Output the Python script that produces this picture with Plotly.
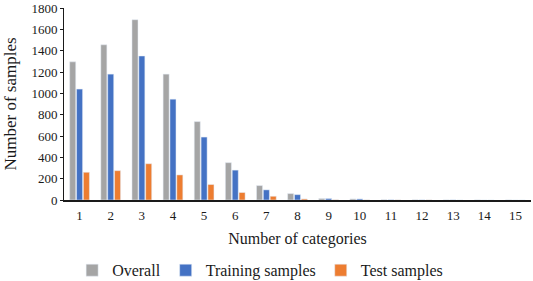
import plotly.graph_objects as go

categories = [str(i) for i in range(1, 16)]
overall = [1295, 1455, 1690, 1180, 735, 350, 135, 60, 14, 10, 3, 2, 1, 1, 1]
training = [1040, 1180, 1350, 945, 590, 280, 95, 50, 14, 10, 2, 1, 1, 0, 0]
test = [260, 275, 340, 235, 145, 70, 35, 10, 2, 1, 1, 1, 0, 0, 0]
y_ticks = [0, 200, 400, 600, 800, 1000, 1200, 1400, 1600, 1800]

font_family = "Liberation Serif, Times New Roman, serif"

fig = go.Figure()
fig.add_trace(go.Bar(x=categories, y=overall, name="Overall", marker_color="#A5A5A5"))
fig.add_trace(go.Bar(x=categories, y=training, name="Training samples", marker_color="#4472C4"))
fig.add_trace(go.Bar(x=categories, y=test, name="Test samples", marker_color="#ED7D31"))

fig.update_layout(
    width=533, height=281,
    margin=dict(l=64, r=2, t=8, b=81, autoexpand=False),
    paper_bgcolor="white", plot_bgcolor="white",
    font=dict(family=font_family, color="#1a1a1a", size=13),
    barmode="group", bargap=0.34, bargroupgap=0.12,
    legend=dict(orientation="h", x=0.42, xanchor="center",
                y=-0.366, yanchor="middle",
                font=dict(size=16, family=font_family),
                itemwidth=30, tracegroupgap=0),
    xaxis=dict(type="category", showline=True, linecolor="#1a1a1a", linewidth=2,
               ticks="", showgrid=False, automargin=False, ticklabelstandoff=2,
               title=dict(text="Number of categories", font=dict(size=16), standoff=11),
               tickfont=dict(size=13)),
    yaxis=dict(range=[0, 1800], tickvals=y_ticks, showgrid=False, zeroline=False,
               showline=True, linecolor="#1a1a1a", linewidth=1,
               ticks="outside", ticklen=3, tickcolor="#1a1a1a", automargin=False,
               title=dict(text="Number of samples", font=dict(size=17), standoff=10),
               tickfont=dict(size=13)),
)

fig.write_html("out.html", config={"displayModeBar": False},
               post_script="document.body.style.margin='0';")
